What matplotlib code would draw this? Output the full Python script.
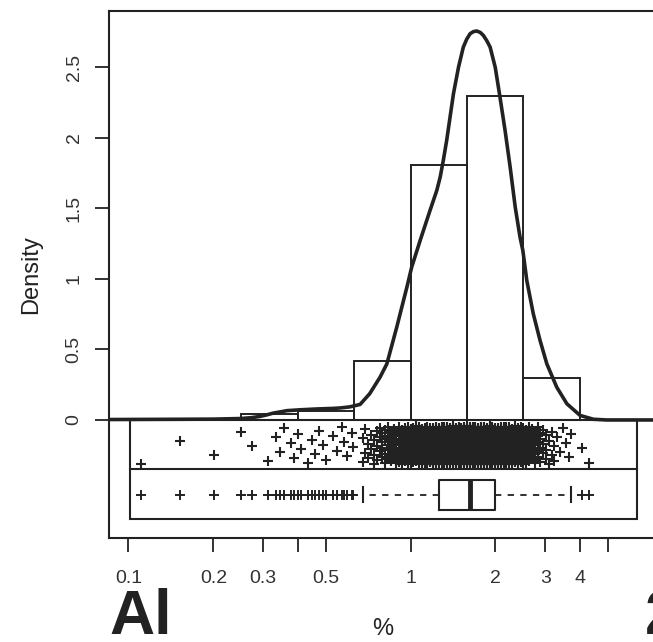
import numpy as np
import matplotlib
matplotlib.use("Agg")
import matplotlib.pyplot as plt

plt.rcParams['font.family'] = ['Liberation Sans', 'DejaVu Sans']
INK = '#222222'

# histogram of log10(Al %): bin edges and densities
bin_edges = [-1.0, -0.8, -0.6, -0.4, -0.2, 0.0, 0.2, 0.4, 0.6]
bin_density = [0.009, 0.009, 0.045, 0.062, 0.415, 1.81, 2.30, 0.30]

# density curve (log10 %, density)
kde_x = [-1.07, -0.95, -0.81, -0.70, -0.605, -0.565, -0.534, -0.51, -0.488, -0.46,
         -0.438, -0.392, -0.332, -0.275, -0.25, -0.215, -0.179, -0.145, -0.108, -0.084,
         -0.049, -0.013, 0.004, 0.034, 0.069, 0.093, 0.105, 0.116, 0.128, 0.14,
         0.152, 0.17, 0.187, 0.199, 0.211, 0.223, 0.235, 0.247, 0.258, 0.27,
         0.282, 0.30, 0.317, 0.335, 0.353, 0.371, 0.388, 0.398, 0.412, 0.435,
         0.459, 0.483, 0.518, 0.554, 0.601, 0.648, 0.695, 0.95]
kde_y = [0.003, 0.004, 0.005, 0.006, 0.010, 0.016, 0.025, 0.036, 0.048, 0.058,
         0.066, 0.072, 0.078, 0.082, 0.085, 0.093, 0.110, 0.186, 0.304, 0.398,
         0.658, 0.942, 1.084, 1.273, 1.486, 1.628, 1.722, 1.840, 1.982, 2.148,
         2.313, 2.502, 2.644, 2.700, 2.739, 2.754, 2.758, 2.748, 2.727, 2.690,
         2.644, 2.502, 2.289, 2.053, 1.793, 1.509, 1.296, 1.202, 0.989, 0.753,
         0.564, 0.398, 0.233, 0.115, 0.032, 0.005, 0.0, 0.0]

# single samples in the tails (Al %)
al_low = [0.111, 0.152, 0.201, 0.250, 0.274, 0.312, 0.333, 0.345, 0.356, 0.377,
          0.387, 0.399, 0.41, 0.433, 0.448, 0.46, 0.474, 0.489, 0.502, 0.532,
          0.55, 0.571, 0.581, 0.597, 0.618, 0.624]
al_high = [4.06, 4.30]

# the bulk: number of samples on each 0.01 step of log10(Al %), from -0.20 to 0.59
bulk_log = np.arange(-20, 60) / 100
bulk_count = [0, 0, 0, 2, 2, 2, 2, 3, 3, 3, 4, 4, 5, 6, 6, 7, 8, 9, 10, 11,
              12, 13, 14, 15, 15, 16, 16, 17, 18, 19, 20, 20, 22, 23, 24, 25, 26, 27, 28, 29,
              30, 30, 31, 31, 31, 30, 30, 29, 29, 28, 27, 26, 25, 23, 22, 20, 18, 17, 15, 14,
              12, 10, 8, 7, 6, 5, 4, 3, 3, 2, 2, 2, 1, 1, 1, 1, 1, 1, 0, 0]

xticks_at = [0.1, 0.2, 0.3, 0.4, 0.5, 1, 2, 3, 4, 5]
xtick_text = ['0.1', '0.2', '0.3', '', '0.5', '1', '2', '3', '4', '']
yticks_at = [0, 0.5, 1, 1.5, 2, 2.5]
ytick_text = ['0', '0.5', '1', '1.5', '2', '2.5']

logs = np.sort(np.concatenate([np.log10(al_low),
                               np.repeat(bulk_log, bulk_count),
                               np.log10(al_high)]))

fig = plt.figure(figsize=(6.53, 6.42), dpi=100)
ax = fig.add_axes([109 / 653, 1 - 538 / 642, (656 - 109) / 653, (538 - 11) / 642])
ax.set_xlim(-1.069, 0.87)
ax.set_ylim(-0.837, 2.90)

ax.bar(bin_edges[:-1], bin_density, width=np.diff(bin_edges), align='edge',
       fill=False, edgecolor=INK, linewidth=1.4)
ax.plot(kde_x, kde_y, color=INK, lw=2.6, solid_capstyle='round', solid_joinstyle='round')

# frame under zero: jittered strip on top, box plot below
ax.add_patch(plt.Rectangle((-0.995, -0.705), 0.803 + 0.995, 0.705,
                           fill=False, ec=INK, lw=1.5))
ax.plot([-0.995, 0.803], [-0.35, -0.35], color=INK, lw=1.5)

jitter = (np.arange(len(logs)) * 0.618034) % 1
ax.plot(logs, -0.18 + (jitter - 0.5) * 0.27, '+', ms=7.5, mew=1.5, color=INK)

ax.boxplot(logs, orientation='horizontal', positions=[-0.53], widths=0.21,
           manage_ticks=False,
           boxprops=dict(color=INK, lw=1.5),
           medianprops=dict(color=INK, lw=3.5),
           whiskerprops=dict(color=INK, lw=1.3, linestyle=(0, (3.5, 3.5))),
           capprops=dict(color=INK, lw=1.5),
           flierprops=dict(marker='+', ms=7, mew=1.4, markeredgecolor=INK))

ax.set_xticks(np.log10(xticks_at))
ax.set_xticklabels(xtick_text)
ax.set_yticks(yticks_at)
ax.set_yticklabels(ytick_text)
for lab in ax.get_yticklabels():
    lab.set_rotation(90)
    lab.set_va('center')
ax.tick_params(axis='both', direction='out', length=10, width=1.3, color=INK,
               labelsize=14, labelcolor='#333333')
ax.tick_params(axis='x', pad=13)
ax.tick_params(axis='y', pad=9)
for s in ax.spines.values():
    s.set_linewidth(1.5)
    s.set_color(INK)

ax.set_xlabel('%', fontsize=17, color=INK)
ax.xaxis.set_label_coords(0.5, -0.152)
ax.set_ylabel('Density', fontsize=17, color=INK)
ax.yaxis.set_label_coords(-0.1225, 0.5)

fig.text(109 / 653, 1 - 634 / 642, 'Al', fontsize=45, fontweight='bold',
         color=INK, ha='left', va='baseline')
fig.text(645 / 653, 1 - 634 / 642, '2', fontsize=45, fontweight='bold',
         color=INK, ha='left', va='baseline')

fig.savefig('out.png', dpi=100)
